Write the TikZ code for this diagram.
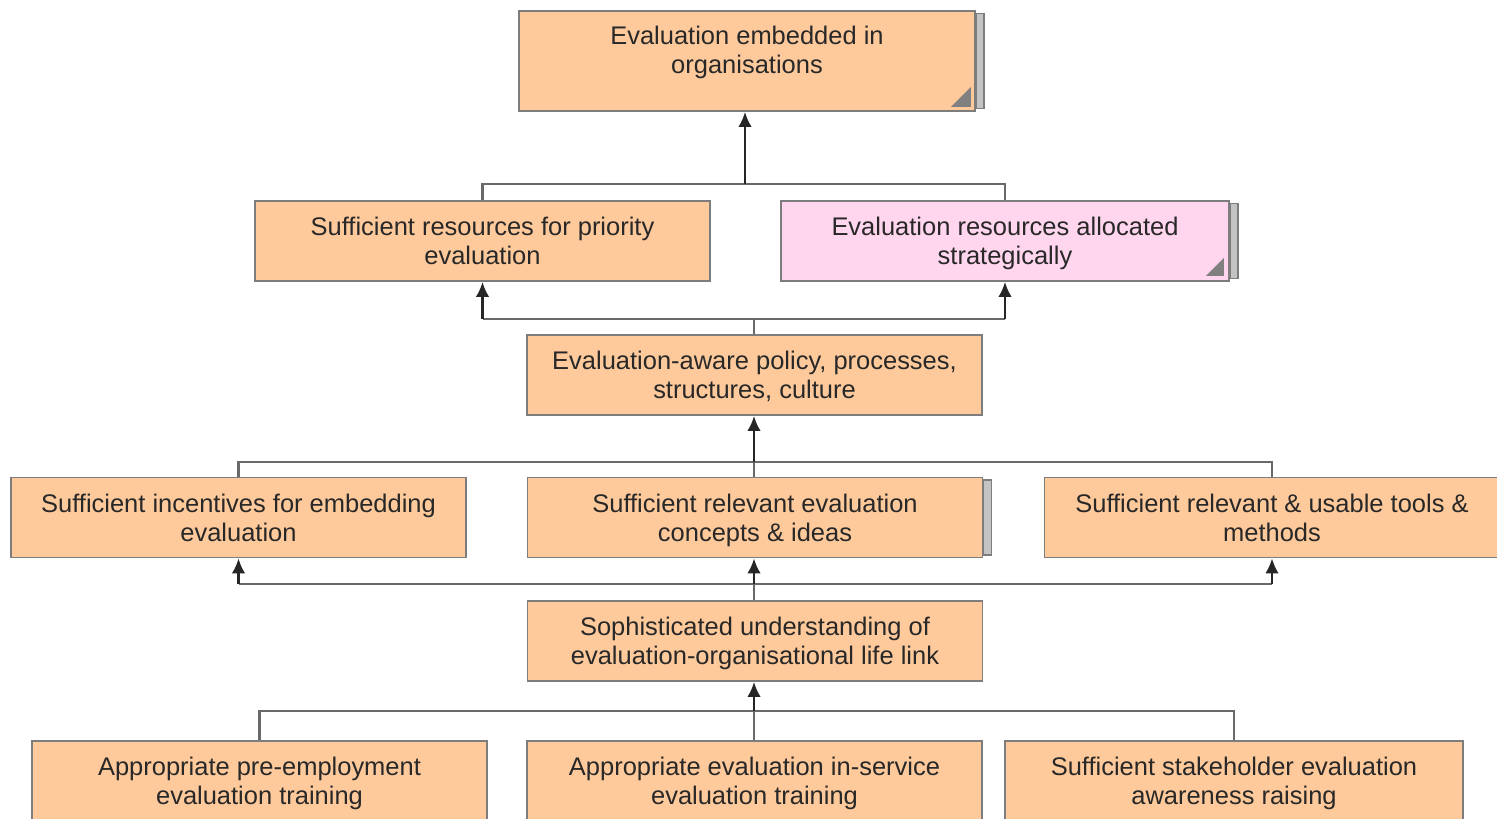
\documentclass[tikz,border=0pt]{standalone}
\usepackage{fontspec}
\setmainfont{Liberation Sans}
\usetikzlibrary{arrows.meta,backgrounds}
\definecolor{peach}{RGB}{255,202,155}
\definecolor{pinkbox}{RGB}{255,214,238}
\definecolor{boxline}{RGB}{125,125,125}
\definecolor{busline}{RGB}{105,105,105}
\definecolor{stackfill}{RGB}{195,195,195}
\definecolor{textcol}{RGB}{40,40,40}
\newcommand{\diagfont}{\fontsize{14.5}{16.5}\selectfont}
\tikzset{
    goal/.style={
           rectangle,
           draw=boxline, line width=1pt,
           fill=peach,
           text=textcol,
           font=\diagfont,
           text depth=0pt,
           minimum width=9.1cm,
           minimum height=1.6cm,
           align=center},
    goalpink/.style={
           goal,
           fill=pinkbox},
    bus/.style={
           draw=busline, line width=1.3pt},
    uparr/.style={
           -{Latex[length=0.3cm,width=0.27cm]}, draw=black!85, line width=1.4pt},
    stackbox/.style={
           fill=stackfill, draw=boxline, line width=0.8pt},
    cornermark/.style={
           fill=black!50}
    }
\begin{document}
\begin{tikzpicture}
      \useasboundingbox (0,0) rectangle (29.94,-16.38);
      \node[goal,minimum width=9.12cm,minimum height=2cm,text depth=0.44cm] (embed) at (14.94,-1.22) {Evaluation embedded in\\organisations};
      \node[goal] (sres) at (9.65,-4.82) {Sufficient resources for priority\\evaluation};
      \node[goalpink,minimum width=8.96cm] (ealloc) at (20.10,-4.82) {Evaluation resources allocated\\strategically};
      \node[goal] (policy) at (15.09,-7.50) {Evaluation-aware policy, processes,\\structures, culture};
      \node[goal] (incent) at (4.77,-10.35) {Sufficient incentives for embedding\\evaluation};
      \node[goal] (concepts) at (15.10,-10.35) {Sufficient relevant evaluation\\concepts \& ideas};
      \node[goal] (tools) at (25.44,-10.35) {Sufficient relevant \& usable tools \&\\methods};
      \node[goal] (underst) at (15.10,-12.82) {Sophisticated understanding of\\evaluation-organisational life link};
      \node[goal] (pretrain) at (5.19,-15.62) {Appropriate pre-employment\\evaluation training};
      \node[goal] (insvc) at (15.09,-15.62) {Appropriate evaluation in-service\\evaluation training};
      \node[goal,minimum width=9.16cm] (stake) at (24.68,-15.62) {Sufficient stakeholder evaluation\\awareness raising};
      \coordinate (j1) at (14.90,-3.68);
      \coordinate (j2) at (15.08,-6.38);
      \coordinate (j3) at (15.08,-9.24);
      \coordinate (j4) at (15.08,-11.68);
      \coordinate (j5) at (15.08,-14.22);
      \begin{scope}[on background layer]
        \foreach \n in {embed,ealloc,concepts}
          \draw[stackbox] ([yshift=-0.07cm]\n.north east) rectangle ([xshift=0.16cm,yshift=0.07cm]\n.south east);
      \end{scope}
      \fill[cornermark] ([shift={(-0.1,0.1)}]embed.south east) -- ++(0,0.4) -- ++(-0.4,-0.4) -- cycle;
      \fill[cornermark] ([shift={(-0.12,0.12)}]ealloc.south east) -- ++(0,0.36) -- ++(-0.36,-0.36) -- cycle;
      \draw[bus] (sres.north) |- (j1) -| (ealloc.north);
      \draw[uparr] (j1) -- (j1 |- embed.south);
      \draw[bus] (j2 |- policy.north) -- (j2);
      \draw[bus] (sres.south |- j2) -- (ealloc.south |- j2);
      \draw[uparr] (sres.south |- j2) -- (sres.south);
      \draw[uparr] (ealloc.south |- j2) -- (ealloc.south);
      \draw[bus] (incent.north) |- (j3) -| (tools.north);
      \draw[bus] (j3 |- concepts.north) -- (j3);
      \draw[uparr] (j3) -- (j3 |- policy.south);
      \draw[bus] (j4 |- underst.north) -- (j4);
      \draw[bus] (incent.south |- j4) -- (tools.south |- j4);
      \draw[uparr] (incent.south |- j4) -- (incent.south);
      \draw[uparr] (tools.south |- j4) -- (tools.south);
      \draw[uparr] (j4) -- (j4 |- concepts.south);
      \draw[bus] (pretrain.north) |- (j5) -| (stake.north);
      \draw[bus] (j5 |- insvc.north) -- (j5);
      \draw[uparr] (j5) -- (j5 |- underst.south);
\end{tikzpicture}
\end{document}
